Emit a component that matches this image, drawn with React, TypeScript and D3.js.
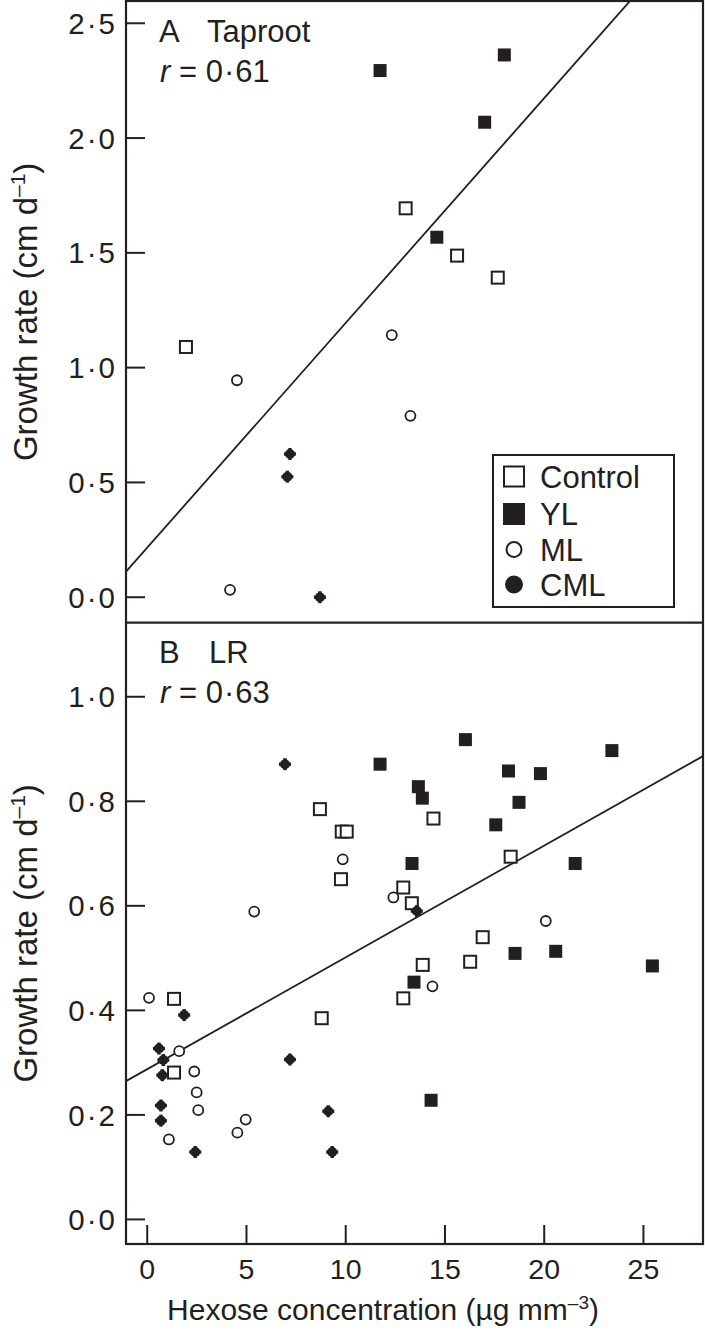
import React from "react";
import * as d3 from "d3";

// ---------- data ----------
const xTicks = [0, 5, 10, 15, 20, 25];
const taprootYTicks = [0, 0.5, 1.0, 1.5, 2.0, 2.5];
const lrYTicks = [0, 0.2, 0.4, 0.6, 0.8, 1.0];

const legendLabels = ["Control", "YL", "ML", "CML"];

// Panel A: Taproot  [hexose, growth rate]
const taprootControl: [number, number][] = [[1.95, 1.09], [13.02, 1.694], [15.61, 1.488], [17.66, 1.392]];
const taprootYL: [number, number][] = [[11.73, 2.294], [17.99, 2.362], [17.0, 2.069], [14.59, 1.568]];
const taprootML: [number, number][] = [[4.52, 0.945], [4.17, 0.032], [12.32, 1.142], [13.26, 0.79]];
const taprootCML: [number, number][] = [[7.19, 0.624], [7.06, 0.525], [8.7, 0.0]];
const taprootFit = { intercept: 0.216, slope: 0.0979, r: "0·61" };

// Panel B: LR
const lrControl: [number, number][] = [
  [8.7, 0.785], [9.8, 0.742], [10.05, 0.742], [9.76, 0.651], [14.42, 0.767], [18.31, 0.694],
  [12.9, 0.635], [13.33, 0.605], [16.9, 0.54], [16.27, 0.493], [13.88, 0.487], [12.9, 0.423],
  [1.35, 0.422], [8.79, 0.385], [1.35, 0.281],
];
const lrYL: [number, number][] = [
  [16.03, 0.918], [11.73, 0.871], [23.41, 0.897], [18.2, 0.858], [19.81, 0.853], [13.66, 0.828],
  [13.86, 0.806], [18.73, 0.798], [17.56, 0.755], [21.56, 0.681], [13.34, 0.681], [18.53, 0.509],
  [20.58, 0.513], [25.45, 0.485], [13.44, 0.454], [14.3, 0.228],
];
const lrML: [number, number][] = [
  [9.85, 0.689], [5.39, 0.589], [12.4, 0.616], [20.08, 0.571], [14.37, 0.446], [0.09, 0.424],
  [1.61, 0.322], [2.37, 0.283], [2.49, 0.243], [2.57, 0.209], [4.96, 0.191], [4.54, 0.166], [1.09, 0.153],
];
const lrCML: [number, number][] = [
  [6.94, 0.871], [13.58, 0.59], [1.86, 0.391], [0.59, 0.327], [0.81, 0.305], [7.19, 0.306],
  [0.76, 0.276], [0.69, 0.218], [0.69, 0.189], [9.12, 0.207], [2.42, 0.129], [9.32, 0.129],
];
const lrFit = { intercept: 0.2875, slope: 0.02139, r: "0·63" };

// ---------- layout ----------
const W = 705;
const H = 1331;
const INK = "#231f20";
const FONT = "'Liberation Sans', Arial, Helvetica, sans-serif";
const left = 126;
const right = 703;
const topA = 1;
const mid = 622.7;
const bottom = 1244;

const x = d3.scaleLinear().domain([-1.07, 28.0]).range([left, right]);
const yA = d3.scaleLinear().domain([-0.111, 2.597]).range([mid, topA]);
const yB = d3.scaleLinear().domain([-0.047, 1.1417]).range([bottom, mid]);

const fmtParts = (v: number) => d3.format(".1f")(v).split(".");

function OpenSquare({ cx, cy, s = 12, sw = 2 }: any) {
  return <rect x={cx - s / 2} y={cy - s / 2} width={s} height={s} fill="#fff" stroke={INK} strokeWidth={sw} />;
}
function FilledSquare({ cx, cy, s = 13 }: any) {
  return <rect x={cx - s / 2} y={cy - s / 2} width={s} height={s} fill={INK} />;
}
function OpenCircle({ cx, cy, r = 5, sw = 1.8 }: any) {
  return <circle cx={cx} cy={cy} r={r} fill="#fff" stroke={INK} strokeWidth={sw} />;
}
function CmlMark({ cx, cy }: any) {
  return (
    <g>
      <circle cx={cx} cy={cy} r={5} fill={INK} />
      <rect x={cx - 1.7} y={cy - 6} width={3.4} height={12} fill={INK} />
      <rect x={cx - 6} y={cy - 1.7} width={12} height={3.4} fill={INK} />
    </g>
  );
}

function Panel({ y, yTicks, control, yl, ml, cml, fit, letter, name, nameX, top, bot, clipId, labelBase }: any) {
  const line = d3
    .line<number>()
    .x((d) => x(d))
    .y((d) => y(fit.intercept + fit.slope * d));
  const xs = [x.domain()[0], x.domain()[1]];
  return (
    <g>
      <defs>
        <clipPath id={clipId}>
          <rect x={left} y={top} width={right - left} height={bot - top} />
        </clipPath>
      </defs>
      {yTicks.map((t: number) => {
        const [a, b] = fmtParts(t);
        return (
          <g key={t}>
            <line x1={left} x2={left + 19} y1={y(t)} y2={y(t)} stroke={INK} strokeWidth={2} />
            <text x={115} y={y(t)} dy="0.36em" textAnchor="end" fontSize={29.5} fontFamily={FONT} fill={INK}>
              {a}
              <tspan dx={2}>·</tspan>
              <tspan dx={2}>{b}</tspan>
            </text>
          </g>
        );
      })}
      <path d={line(xs) || ""} fill="none" stroke={INK} strokeWidth={1.8} clipPath={`url(#${clipId})`} />
      {control.map((d: [number, number], i: number) => (
        <OpenSquare key={"c" + i} cx={x(d[0])} cy={y(d[1])} />
      ))}
      {yl.map((d: [number, number], i: number) => (
        <FilledSquare key={"y" + i} cx={x(d[0])} cy={y(d[1])} />
      ))}
      {ml.map((d: [number, number], i: number) => (
        <OpenCircle key={"m" + i} cx={x(d[0])} cy={y(d[1])} />
      ))}
      {cml.map((d: [number, number], i: number) => (
        <CmlMark key={"k" + i} cx={x(d[0])} cy={y(d[1])} />
      ))}
      <text x={159} y={labelBase} fontSize={31} fontFamily={FONT} fill={INK}>{letter}</text>
      <text x={nameX} y={labelBase} fontSize={31} fontFamily={FONT} fill={INK}>{name}</text>
      <text x={160} y={labelBase + 40} fontSize={31} fontFamily={FONT} fill={INK}>
        <tspan fontStyle="italic">r</tspan>
        <tspan> = 0</tspan>
        <tspan dx={1}>·</tspan>
        <tspan dx={1}>{fit.r.slice(2)}</tspan>
      </text>
      <text
        transform={`translate(37,${(top + bot) / 2}) rotate(-90)`}
        textAnchor="middle"
        fontSize={33}
        fontFamily={FONT}
        fill={INK}
      >
        Growth rate (cm d<tspan fontSize={21} dy={-12}>–1</tspan>
        <tspan dy={12}>)</tspan>
      </text>
    </g>
  );
}

export default function App() {
  const legendY = [476.5, 514, 549.5, 584.5];
  return (
    <svg width={W} height={H} style={{ position: "absolute", left: 0, top: 0, background: "#fff" }}>
      <rect x={0} y={0} width={W} height={H} fill="#fff" />
      <Panel
        y={yA}
        yTicks={taprootYTicks}
        control={taprootControl}
        yl={taprootYL}
        ml={taprootML}
        cml={taprootCML}
        fit={taprootFit}
        letter="A"
        name="Taproot"
        nameX={207}
        top={topA}
        bot={mid}
        clipId="clipA"
        labelBase={42}
      />
      <Panel
        y={yB}
        yTicks={lrYTicks}
        control={lrControl}
        yl={lrYL}
        ml={lrML}
        cml={lrCML}
        fit={lrFit}
        letter="B"
        name="LR"
        nameX={209}
        top={mid}
        bot={bottom}
        clipId="clipB"
        labelBase={663}
      />
      {/* frame */}
      <rect x={left} y={topA} width={right - left} height={bottom - topA} fill="none" stroke={INK} strokeWidth={2.2} />
      <line x1={left} x2={right} y1={mid} y2={mid} stroke={INK} strokeWidth={2.2} />
      {/* x axis */}
      {xTicks.map((t) => (
        <g key={t}>
          <line x1={x(t)} x2={x(t)} y1={bottom} y2={bottom - 19} stroke={INK} strokeWidth={2} />
          <text x={x(t)} y={1279} textAnchor="middle" fontSize={28.5} fontFamily={FONT} fill={INK}>
            {t}
          </text>
        </g>
      ))}
      <text x={383} y={1320} textAnchor="middle" fontSize={30} fontFamily={FONT} fill={INK}>
        Hexose concentration (µg mm<tspan fontSize={19} dy={-11}>–3</tspan>
        <tspan dy={11}>)</tspan>
      </text>
      {/* legend */}
      <rect x={493} y={455} width={181} height={152} fill="#fff" stroke={INK} strokeWidth={2} />
      {legendLabels.map((lab, i) => {
        const cy = legendY[i];
        const cx = 514;
        return (
          <g key={lab}>
            {i === 0 && <OpenSquare cx={cx} cy={cy} s={20} sw={2} />}
            {i === 1 && <FilledSquare cx={cx} cy={cy} s={22} />}
            {i === 2 && <OpenCircle cx={cx} cy={cy} r={7.5} sw={2} />}
            {i === 3 && <circle cx={cx} cy={cy} r={9} fill={INK} />}
            <text x={540} y={cy + 11} fontSize={31} fontFamily={FONT} fill={INK}>
              {lab}
            </text>
          </g>
        );
      })}
    </svg>
  );
}
